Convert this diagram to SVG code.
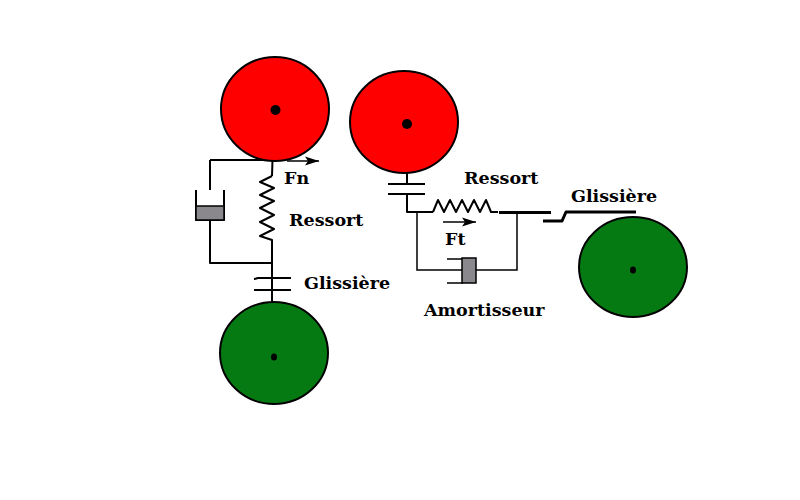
<svg xmlns="http://www.w3.org/2000/svg" width="800" height="500" viewBox="0 0 800 500">
<defs>
<marker id="ah" markerUnits="userSpaceOnUse" markerWidth="14" markerHeight="10" refX="14" refY="5" orient="auto"><path d="M0 0.5L14 5L0 9.5L3 5Z" fill="#000"/></marker>
</defs>
<style>
.red{fill:#ff0000;stroke:#000;stroke-width:2}
.green{fill:#067a12;stroke:#000;stroke-width:2}
.hub{fill:#000}
.l{fill:none;stroke:#000;stroke-width:2;stroke-linejoin:round}
.t{fill:none;stroke:#000;stroke-width:1.5}
.h{fill:none;stroke:#000;stroke-width:3;stroke-linejoin:round}
.box{fill:#8a888c;stroke:#000;stroke-width:1.5}
text{font-family:"DejaVu Serif","Liberation Serif",serif;font-weight:bold;font-size:17.5px;fill:#000}
</style>
<g id="connectors">
<path class="l" d="M210 160H272.500L272 176"/>
<path class="l" d="M272 176L260 182L274 188L260 195L274 201L260 208L274 215L260 222L274 229L260 236L272 240V302"/>
<path class="l" d="M210 160V190M210 216V263H272"/>
<path class="l" d="M254 279Q255 279 258 278H291M254 290H291"/>
<path class="t" d="M287 161H319" marker-end="url(#ah)"/>
<path class="l" d="M407 171V183M388 184H425M388 194H425M407 194V212H433"/>
<path class="l" d="M433 212L438 200L444 212L450 200L456 212L462 200L468 212L474 200L480 212L486 200L491 212H498"/>
<path class="h" d="M499 212.500H551"/>
<path class="h" d="M543 221H562L566 212H636"/>
<path class="t" d="M417 213V270H462M476 270H517V213"/>
<path class="t" d="M447 259H463M447 283H463"/>
<path class="t" d="M443 222H476" marker-end="url(#ah)"/>
</g>
<g id="wheel-top-left"><ellipse class="red" cx="275" cy="109" rx="54" ry="52"/><ellipse class="hub" cx="275.500" cy="110" rx="5" ry="5"/></g>
<g id="wheel-bottom-left"><ellipse class="green" cx="274" cy="353" rx="54" ry="51"/><ellipse class="hub" cx="274" cy="357" rx="3" ry="3.500"/></g>
<g id="wheel-top-right"><ellipse class="red" cx="404" cy="122" rx="54" ry="51"/><ellipse class="hub" cx="407" cy="124" rx="5" ry="5"/></g>
<g id="wheel-right"><ellipse class="green" cx="633" cy="267" rx="54" ry="50"/><ellipse class="hub" cx="633" cy="270" rx="3" ry="3.500"/></g>
<g id="damper-left"><path class="l" d="M196 190V220H224V190"/><rect class="box" x="196" y="206" width="28" height="14"/></g>
<g id="damper-right"><rect class="box" x="462" y="258" width="14" height="25"/></g>
<g id="labels">
<text x="284" y="184">Fn</text>
<text x="289" y="226">Ressort</text>
<text x="304" y="289">Glissière</text>
<text x="464" y="184">Ressort</text>
<text x="571" y="202">Glissière</text>
<text x="445" y="245">Ft</text>
<text x="424" y="316">Amortisseur</text>
</g>
</svg>
